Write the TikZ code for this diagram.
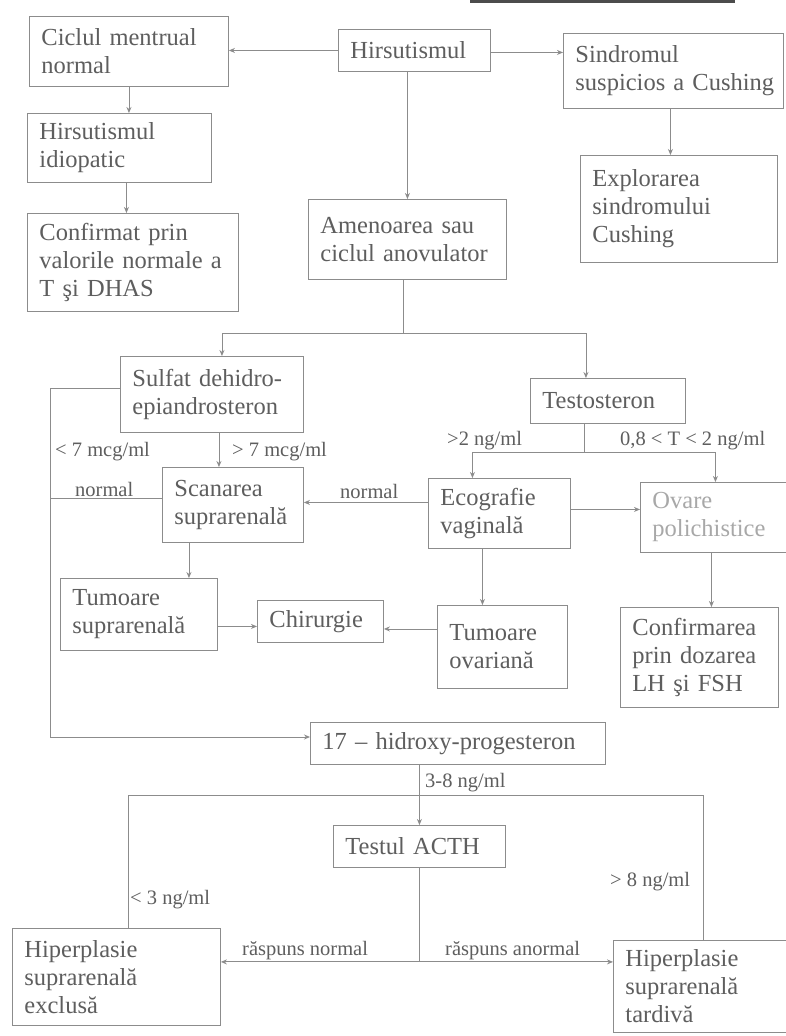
\documentclass[tikz,border=0pt]{standalone}
\usepackage{fontspec}
\setmainfont{Liberation Serif}
\usetikzlibrary{arrows.meta}
\definecolor{ln}{HTML}{8C8C8C}
\definecolor{tx}{HTML}{5E5E5E}
\definecolor{fd}{HTML}{A8A8A8}
\tikzset{
  box/.style={draw=ln, line width=0.9pt, inner xsep=12pt, inner ysep=2pt, align=left, text=tx,
    font=\fontsize{24.5}{28}\selectfont},
  conn/.style={draw=ln, line width=0.9pt},
  arr/.style={conn, -{Stealth[length=6pt,width=5pt]}},
  lbl/.style={text=tx, inner sep=0pt, anchor=west, font=\fontsize{20.5}{23}\selectfont}
}
\newcommand\bx[6]{%
  \pgfmathsetmacro\bw{#4-#2}\pgfmathsetmacro\bh{#5-#3}\pgfmathsetmacro\tw{#4-#2-24}%
  \node[box, anchor=north west, minimum width=\bw pt, minimum height=\bh pt, text width=\tw pt] (#1) at (#2,#3) {#6};}
\begin{document}
\begin{tikzpicture}[x=1pt,y=-1pt]
\useasboundingbox[fill=white] (0,0) rectangle (785,1036);
% page artefact at the top
\draw[line width=3pt, color=black!70] (470,1) -- (735,1);
% boxes
\bx{cic}{29}{16}{228}{86}{Ciclul mentrual\\normal}
\bx{hir}{338}{29}{490}{71}{Hirsutismul}
\bx{sind}{563}{33}{783}{108}{Sindromul\\\mbox{suspicios a Cushing}}
\bx{idio}{27}{113}{211}{182}{Hirsutismul\\idiopatic}
\bx{expl}{580}{155}{777}{262}{Explorarea\\sindromului\\Cushing}
\bx{conf}{27}{213}{238}{311}{Confirmat prin\\\mbox{valorile normale a}\\T şi DHAS}
\bx{amen}{308}{199}{506}{279}{Amenoarea sau\\\mbox{ciclul anovulator}}
\bx{sulf}{120}{356}{303}{432}{Sulfat dehidro-\\epiandrosteron}
\bx{test}{530}{378}{685}{423}{Testosteron}
\bx{scan}{162}{467}{303}{542}{Scanarea\\suprarenală}
\bx{eco}{428}{478}{570}{548}{Ecografie\\vaginală}
\node[box, text=fd, anchor=north west, minimum width=150pt, minimum height=70pt, text width=126pt] (ova) at (640,482) {Ovare\\polichistice};
\bx{tsup}{60}{578}{217}{650}{Tumoare\\suprarenală}
\bx{chir}{257}{600}{383}{642}{Chirurgie}
\bx{tov}{437}{605}{567}{688}{Tumoare\\ovariană}
\bx{cfm}{620}{607}{778}{707}{Confirmarea\\prin dozarea\\LH şi FSH}
\bx{hyd}{310}{722}{605}{764}{\mbox{17 – hidroxy-progesteron}}
\bx{acth}{333}{825}{505}{867}{Testul ACTH}
\bx{hex}{12}{928}{220}{1025}{Hiperplasie\\suprarenală\\exclusă}
\bx{hta}{613}{940}{793}{1032}{Hiperplasie\\suprarenală\\tardivă}
% connectors top
\draw[arr] (hir.west) -- (hir.west -| cic.east);
\draw[arr] ([yshift=-2pt]hir.east) -- ([yshift=-2pt]hir.east -| sind.west);
\draw[arr] (cic.south) -- (cic.south |- idio.north);
\draw[arr] ([xshift=7pt]idio.south) -- ([xshift=7pt]idio.south |- conf.north);
\draw[arr] (amen.north |- hir.south) -- (amen.north);
\draw[arr] ([xshift=-3pt]sind.south) -- ([xshift=-3pt]sind.south |- expl.north);
% amenoarea split
\draw[conn] ([xshift=-4pt]amen.south) -- ++(0,54) coordinate (j1);
\draw[arr] (j1) -| ([xshift=10pt]sulf.north);
\draw[arr] (j1) -| ([xshift=-22pt]test.north);
% DHEA-S
\coordinate (L2) at (50,737);
\draw[arr] ([yshift=6pt]sulf.west) -| (L2) -- (L2 -| hyd.west);
\draw[conn] ([yshift=7pt]scan.west) -- ([yshift=7pt]scan.west -| L2);
\draw[arr] ([xshift=7pt]sulf.south) -- ([xshift=7pt]sulf.south |- scan.north);
\node[lbl] (l1) at (55,452) {< 7 mcg/ml};
\node[lbl] (l2) at (232,452) {> 7 mcg/ml};
\node[lbl] (l3) at (75,489) {normal};
% testosteron
\draw[conn] ([xshift=-24pt]test.south) -- ++(0,29) coordinate (j2);
\draw[arr] (j2) -| ([xshift=-27pt]eco.north);
\draw[arr] (j2) -| (ova.north);
\node[lbl] (l4) at (447,441) {>2 ng/ml};
\node[lbl] (l5) at (620,441) {0,8 < T < 2 ng/ml};
\draw[arr] ([yshift=11pt]eco.west) -- ([yshift=11pt]eco.west -| scan.east);
\node[lbl] (l6) at (340,491) {normal};
\draw[arr] ([yshift=4pt]eco.east) -- ([yshift=4pt]eco.east -| ova.west);
\draw[arr] ([xshift=-44pt]scan.south) -- ([xshift=-44pt]scan.south |- tsup.north);
\draw[arr] ([yshift=-12pt]tsup.east) -- ([yshift=-12pt]tsup.east -| chir.west);
\draw[arr] ([yshift=18pt]tov.west) -- ([yshift=18pt]tov.west -| chir.east);
\draw[arr] ([xshift=-17pt]eco.south) -- ([xshift=-17pt]eco.south |- tov.north);
\draw[arr] ([xshift=-4pt]ova.south) -- ([xshift=-4pt]ova.south |- cfm.north);
% 17-OH progesteron
\draw[arr] (acth.north |- hyd.south) -- (acth.north);
\node[lbl] (l7) at (425,783) {3-8 ng/ml};
\coordinate (j3) at (419,795);
\draw[conn] (j3) -| ([xshift=12pt]hex.north);
\draw[conn] (j3) -| (hta.north);
\node[lbl] (l8) at (130,900) {< 3 ng/ml};
\node[lbl] (l9) at (610,882) {> 8 ng/ml};
\draw[conn] (acth.south) -- ++(0,94) coordinate (j4);
\draw[arr] (j4) -- (j4 -| hex.east);
\draw[arr] (j4) -- (j4 -| hta.west);
\node[lbl] (l10) at (242,951) {răspuns normal};
\node[lbl] (l11) at (445,951) {răspuns anormal};
\end{tikzpicture}
\end{document}
